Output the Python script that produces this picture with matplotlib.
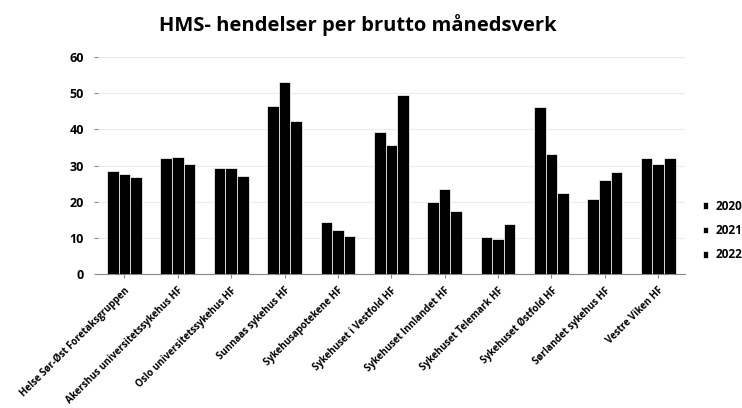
import numpy as np
import matplotlib
matplotlib.use("Agg")
import matplotlib.pyplot as plt

# Values
units = ["Helse Sør-Øst Foretaksgruppen", "Akershus universitetssykehus HF",
         "Oslo universitetssykehus HF", "Sunnaas sykehus HF", "Sykehusapotekene HF",
         "Sykehuset i Vestfold HF", "Sykehuset Innlandet HF", "Sykehuset Telemark HF",
         "Sykehuset Østfold HF", "Sørlandet sykehus HF", "Vestre Viken HF"]
years = ["2020", "2021", "2022"]
v2020 = [28.5, 32.1, 29.4, 46.6, 14.3, 39.4, 19.8, 10.3, 46.3, 20.7, 32.1]
v2021 = [27.8, 32.3, 29.2, 53.1, 12.3, 35.8, 23.6, 9.7, 33.2, 26.1, 30.4]
v2022 = [26.8, 30.3, 27.2, 42.3, 10.6, 49.6, 17.4, 13.9, 22.5, 28.3, 32.1]
y_ticks = [0, 10, 20, 30, 40, 50, 60]

plt.rcParams['font.family'] = ['Open Sans', 'DejaVu Sans']
plt.rcParams['font.weight'] = 'bold'

fig = plt.figure(figsize=(7.42, 4.08), dpi=100)
ax = fig.add_axes([0.1317, 0.3284, 0.7913, 0.5316])

x = np.arange(len(units))
w = 0.217
for i, (yr, vals) in enumerate(zip(years, [v2020, v2021, v2022])):
    ax.bar(x + (i - 1) * w, vals, width=w, color='black', edgecolor='white',
           linewidth=0.5, label=yr, zorder=3)

ax.set_xlim(-0.5, len(units) - 0.5)
ax.set_ylim(0, 60)
ax.set_yticks(y_ticks)
ax.set_xticks(x)
ax.set_xticklabels(units, rotation=45, ha='right', rotation_mode='anchor',
                   fontsize=7, fontweight='bold')
ax.tick_params(axis='y', labelsize=9, length=3, color='#888888', pad=7)
ax.tick_params(axis='x', length=3, color='#888888', pad=5)
for lbl in ax.get_yticklabels():
    lbl.set_fontweight('bold')

ax.yaxis.grid(True, color='#ebebeb', linewidth=0.8, zorder=0)
ax.set_axisbelow(True)
for s in ['top', 'right', 'left']:
    ax.spines[s].set_visible(False)
ax.spines['bottom'].set_color('#888888')

ax.legend(loc='center left', bbox_to_anchor=(1.012, 0.2), frameon=False,
          handlelength=0.5, handleheight=0.5, handletextpad=0.6,
          labelspacing=0.95, prop={'weight': 'bold', 'size': 8.5})

fig.suptitle("HMS- hendelser per brutto månedsverk", x=0.482, y=0.965,
             fontsize=14.5, fontweight='bold')

fig.savefig("out.png", dpi=100)
